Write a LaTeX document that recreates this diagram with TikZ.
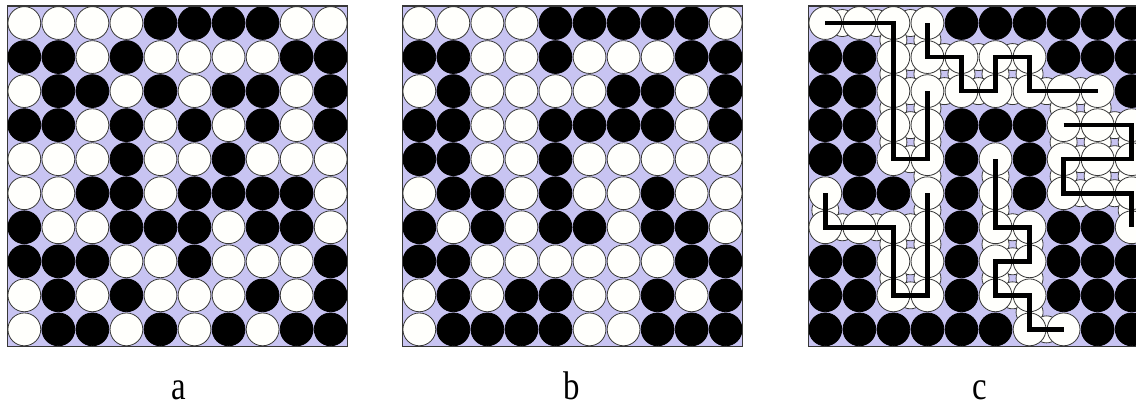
\documentclass[tikz,border=0pt]{standalone}
\usepackage{fontspec}
\setmainfont{Liberation Serif}
\newfontfamily\lblfont[FakeStretch=0.82]{Liberation Serif}
\definecolor{lav}{RGB}{200,196,242}
\definecolor{edgegray}{RGB}{55,55,55}
\definecolor{offwhite}{RGB}{255,255,252}
\def\pitch{34.04}
\def\rad{16.4}
\def\mrad{13.5}
\newcommand\storegrid[2]{%
  \foreach \row [count=\rr] in {#2}{%
    \foreach \v [count=\cc] in \row {%
      \expandafter\xdef\csname g#1-\rr-\cc\endcsname{\v}}}}
\storegrid{a}{{0,0,0,0,1,1,1,1,0,0},{1,1,0,1,0,0,0,0,1,1},{0,1,1,0,1,0,1,1,0,1},{1,1,0,1,0,1,0,1,0,1},{0,0,0,1,0,0,1,0,0,0},{0,0,1,1,0,1,1,1,1,0},{1,0,0,1,1,1,0,1,1,0},{1,1,1,0,0,1,0,0,0,1},{0,1,0,1,0,0,0,1,0,1},{0,1,1,0,1,0,1,0,1,1}}
\storegrid{b}{{0,0,0,0,1,1,1,1,1,0},{1,1,0,0,1,0,0,0,1,1},{0,1,0,0,0,0,1,1,0,1},{1,1,0,0,1,1,1,1,0,1},{1,1,0,0,1,0,0,0,0,0},{0,1,1,0,1,0,0,1,0,0},{1,0,1,0,1,1,0,1,1,0},{1,1,0,0,0,0,0,0,1,1},{0,1,0,1,1,0,0,1,0,1},{0,1,1,1,1,0,0,1,1,1}}
\storegrid{c}{{0,0,0,0,1,1,1,1,1,1},{1,1,0,0,0,0,0,1,1,1},{1,1,0,0,0,0,0,0,0,1},{1,1,0,0,1,1,1,0,0,0},{1,1,0,0,1,0,1,0,0,0},{0,1,1,0,1,0,1,0,0,0},{0,0,0,0,1,0,0,1,1,0},{1,1,0,0,1,0,0,1,1,1},{1,1,0,0,1,0,0,1,1,1},{1,1,1,1,1,1,0,0,1,1}}
% #1 name, #2 x0, #3 y0
\newcommand\plainpanel[3]{%
  \fill[lav] (#2,#3) rectangle ++(10*\pitch,10*\pitch);
  \foreach \r in {1,...,10}{\foreach \c in {1,...,10}{%
    \coordinate (#1-\c-\r) at ({#2+\pitch*(\c-0.5)},{#3+\pitch*(\r-0.5)});
    \ifnum\csname g#1-\r-\c\endcsname=1\relax
      \filldraw[blk] (#1-\c-\r) circle[radius=\rad pt];
    \else
      \filldraw[wht] (#1-\c-\r) circle[radius=\rad pt];
    \fi}}
  \draw[frame] (#2,#3) rectangle ++(10*\pitch,10*\pitch);
}
\newcommand\pathpanel[3]{%
  \fill[lav] (#2,#3) rectangle ++(10*\pitch,10*\pitch);
  \foreach \r in {1,...,10}{\foreach \c in {1,...,10}{%
    \coordinate (#1-\c-\r) at ({#2+\pitch*(\c-0.5)},{#3+\pitch*(\r-0.5)});
    \ifnum\csname g#1-\r-\c\endcsname=1\relax
      \filldraw[blk] (#1-\c-\r) circle[radius=\rad pt];
    \fi}}
  % midpoint circles between neighbouring white cells
  \foreach \r in {1,...,10}{\foreach \c in {1,...,10}{%
    \ifnum\csname g#1-\r-\c\endcsname=0\relax
      \ifnum\c<10\relax
        \pgfmathtruncatemacro\cn{\c+1}%
        \ifnum\csname g#1-\r-\cn\endcsname=0\relax
          \filldraw[wht] ($(#1-\c-\r)!0.5!(#1-\cn-\r)$) circle[radius=\mrad pt];
        \fi
      \fi
      \ifnum\r<10\relax
        \pgfmathtruncatemacro\rn{\r+1}%
        \ifnum\csname g#1-\rn-\c\endcsname=0\relax
          \filldraw[wht] ($(#1-\c-\r)!0.5!(#1-\c-\rn)$) circle[radius=\mrad pt];
        \fi
      \fi
    \fi}}
  % white grid circles on top
  \foreach \r in {1,...,10}{\foreach \c in {1,...,10}{%
    \ifnum\csname g#1-\r-\c\endcsname=0\relax
      \filldraw[wht] (#1-\c-\r) circle[radius=\rad pt];
    \fi}}
}
\usetikzlibrary{calc}
\begin{document}
\begin{tikzpicture}[x=1pt,y=-1pt,
  blk/.style={fill=black,draw=black,line width=0.8pt},
  wht/.style={fill=offwhite,draw=edgegray,line width=0.8pt},
  frame/.style={draw=edgegray,line width=1.2pt},
  trail/.style={draw=black,line width=4.6pt,line join=miter},
  lbl/.style={font=\lblfont\fontsize{40}{40}\selectfont,anchor=base,inner sep=0pt}]
\useasboundingbox (0,0) rectangle (1136,413);
\fill[white] (0,0) rectangle (1136,413);
\plainpanel{a}{7.3}{6}
\plainpanel{b}{402.3}{6}
\begin{scope}
\clip (808.3,6) rectangle ++(340.4,340.4);
\pathpanel{c}{808.3}{6}
\draw[trail] (c-1-1) -- (c-3-1) -- (c-3-5) -- (c-4-5) -- (c-4-3);
\draw[trail] (c-4-1) -- (c-4-2) -- (c-5-2) -- (c-5-3) -- (c-6-3) -- (c-6-2) -- (c-7-2) -- (c-7-3) -- (c-9-3);
\draw[trail] (c-8-4) -- (c-10-4) -- (c-10-5) -- (c-8-5) -- (c-8-6) -- (c-10-6) -- (c-10-7);
\draw[trail] (c-1-6) -- (c-1-7) -- (c-3-7) -- (c-3-9) -- (c-4-9) -- (c-4-6);
\draw[trail] (c-6-5) -- (c-6-7) -- (c-7-7) -- (c-7-8) -- (c-6-8) -- (c-6-9) -- (c-7-9) -- (c-7-10) -- (c-8-10);
\end{scope}
\draw[frame] (808.3,6) rectangle ++(340.4,340.4);
\node[lbl] (la) at (178.4,399) {a};
\node[lbl] (lb) at (571.7,399) {b};
\node[lbl] (lc) at (979.6,399) {c};
\end{tikzpicture}
\end{document}
